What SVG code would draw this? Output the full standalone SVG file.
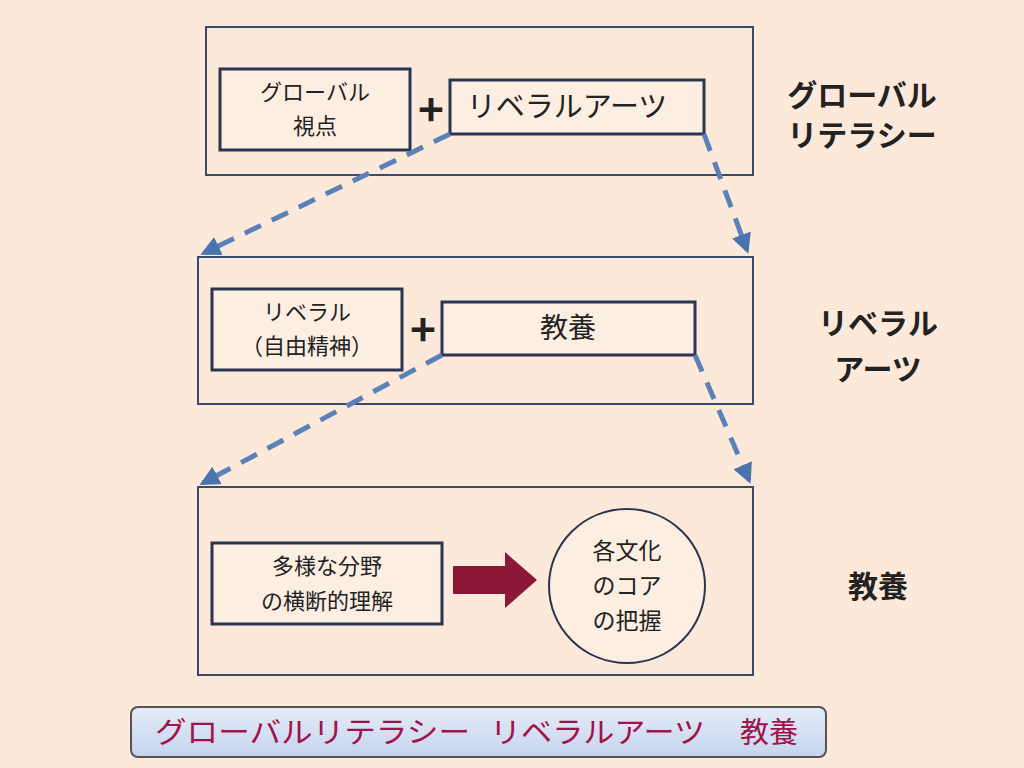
<svg xmlns="http://www.w3.org/2000/svg" width="1024" height="768" viewBox="0 0 1024 768">
<style>
text{font-family:"Noto Sans CJK JP","Liberation Sans",sans-serif;fill:#222;text-anchor:middle}
.outer{fill:none;stroke:#3a4a6a;stroke-width:2}
.inner{fill:#fdeee2;stroke:#2a3550;stroke-width:3}
.side{font-size:30px;font-weight:bold}
.plus{font-size:44px;font-weight:bold}
.dash{stroke:#5b82b8;stroke-width:5;stroke-dasharray:18,12;fill:none}
.ban{font-size:29px;fill:#a3124a;text-anchor:start}
</style>
<defs>
<marker id="ah" viewBox="0 0 10 10" refX="8" refY="5" markerWidth="4" markerHeight="4" orient="auto"><path d="M0,0L10,5L0,10z" fill="#4a74ad"/></marker>
<linearGradient id="bg" x1="0" y1="0" x2="0" y2="1"><stop offset="0" stop-color="#e6ecf8"/><stop offset="1" stop-color="#c4d4ee"/></linearGradient>
</defs>
<rect width="1024" height="768" fill="#fce9da"/>
<g id="box1"><rect class="outer" x="206" y="27" width="547" height="148"/>
<rect class="inner" x="220" y="69" width="190" height="81"/><text x="315" y="100" font-size="22">グローバル</text><text x="315" y="134" font-size="22">視点</text>
<text class="plus" x="431" y="126">+</text>
<rect class="inner" x="450" y="80" width="254" height="54"/><text x="567" y="117" font-size="29">リベラルアーツ</text>
<text class="side" x="862" y="106">グローバル</text><text class="side" x="862" y="146">リテラシー</text></g>
<g id="box2"><rect class="outer" x="198" y="257" width="555" height="147"/>
<rect class="inner" x="212" y="289" width="190" height="81"/><text x="307" y="320" font-size="22">リベラル</text><text x="307" y="354" font-size="22">（自由精神）</text>
<text class="plus" x="423" y="346">+</text>
<rect class="inner" x="442" y="302" width="253" height="53"/><text x="568" y="338" font-size="28">教養</text>
<text class="side" x="878" y="334">リベラル</text><text class="side" x="878" y="380">アーツ</text></g>
<g id="box3"><rect class="outer" x="198" y="487" width="555" height="188"/>
<rect class="inner" x="212" y="543" width="230" height="81"/><text x="327" y="574" font-size="22">多様な分野</text><text x="327" y="609" font-size="22">の横断的理解</text>
<path d="M453,566H505V552L537,580L505,608V594H453z" fill="#8c1836"/>
<ellipse cx="627" cy="586" rx="78" ry="77" fill="#fdeee2" stroke="#2a3550" stroke-width="2"/>
<text x="627" y="559" font-size="23">各文化</text><text x="627" y="594" font-size="23">のコア</text><text x="627" y="629" font-size="23">の把握</text>
<text class="side" x="878" y="597">教養</text></g>
<g id="connectors">
<path class="dash" d="M450,134L204,253" marker-end="url(#ah)"/>
<path class="dash" d="M704,134L747,250" marker-end="url(#ah)"/>
<path class="dash" d="M442,355L203,483" marker-end="url(#ah)"/>
<path class="dash" d="M695,355L749,480" marker-end="url(#ah)"/>
</g>
<g id="banner"><rect x="131" y="707" width="695" height="50" rx="7" fill="url(#bg)" stroke="#555" stroke-width="2"/>
<text class="ban" x="155" y="743" textLength="315" lengthAdjust="spacingAndGlyphs">グローバルリテラシー</text>
<text class="ban" x="490" y="743" textLength="215" lengthAdjust="spacingAndGlyphs">リベラルアーツ</text>
<text class="ban" x="740" y="743">教養</text></g>
</svg>
